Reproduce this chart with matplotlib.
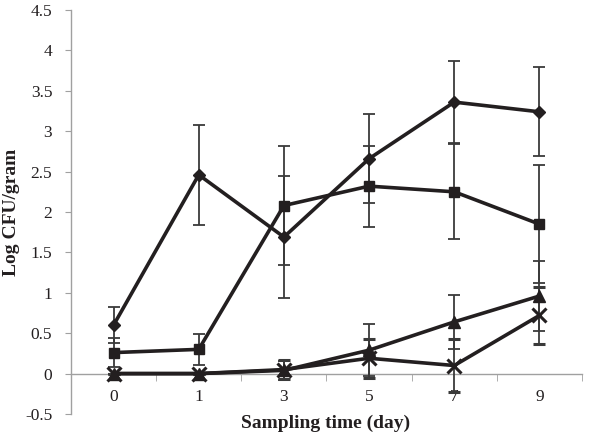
import matplotlib
matplotlib.use("Agg")
import matplotlib.pyplot as plt
import numpy as np

days = ["0", "1", "3", "5", "7", "9"]
diamond = [0.60, 2.46, 1.69, 2.66, 3.36, 3.24]
diamond_err = [0.22, 0.62, 0.76, 0.55, 0.51, 0.55]
square = [0.26, 0.30, 2.08, 2.32, 2.25, 1.85]
square_err = [0.18, 0.19, 0.74, 0.50, 0.59, 0.73]
triangle = [0.0, 0.0, 0.04, 0.29, 0.64, 0.96]
triangle_err = [0.0, 0.0, 0.12, 0.32, 0.33, 0.43]
cross = [0.0, 0.0, 0.05, 0.19, 0.10, 0.72]
cross_err = [0.0, 0.0, 0.12, 0.24, 0.33, 0.35]
yticks = [-0.5, 0, 0.5, 1, 1.5, 2, 2.5, 3, 3.5, 4, 4.5]

plt.rcParams['font.family'] = ['Liberation Serif', 'DejaVu Serif']

fig = plt.figure(figsize=(6.0, 4.37), dpi=100)
ax = fig.add_axes([71/600, 1-414/437, (582-71)/600, (414-10)/437])

x = np.arange(len(days))
line_c = '#231f20'
err_c = '#3a3a3a'

series = [
    (diamond, diamond_err, dict(marker='D', markersize=6.5)),
    (square, square_err, dict(marker='s', markersize=7)),
    (triangle, triangle_err, dict(marker='^', markersize=8)),
    (cross, cross_err, dict(marker='x', markersize=10, markeredgewidth=2.2)),
]
for vals, errs, mk in series:
    ax.errorbar(x, vals, yerr=errs, color=line_c, ecolor=err_c, elinewidth=1.3,
                capsize=4, capthick=1.3, linewidth=2.6, markerfacecolor=line_c,
                markeredgecolor=line_c, zorder=3, **mk)

ax.set_xlim(-0.5, len(days) - 0.5)
ax.set_ylim(-0.5, 4.5)
ax.set_yticks(yticks)
ax.set_yticklabels([f"{v:g}" for v in yticks])

ax.set_xticks(x)
ax.set_xticklabels(days)
ax.set_xticks(np.arange(-0.5, len(days), 1.0), minor=True)
ax.tick_params(axis='x', which='major', length=0, pad=11, labelsize=12.5, colors='#231f20')
ax.tick_params(axis='x', which='minor', length=5, direction='out', color='#a0a0a0')
ax.tick_params(axis='y', which='major', length=4, direction='out', color='#a0a0a0',
               labelsize=12.5, labelcolor='#231f20', pad=9.5)

for s in ['top', 'right']:
    ax.spines[s].set_visible(False)
ax.spines['bottom'].set_position(('data', 0))
ax.spines['bottom'].set_color('#a0a0a0')
ax.spines['left'].set_color('#a0a0a0')
ax.spines['bottom'].set_linewidth(1.0)
ax.spines['left'].set_linewidth(1.0)

fig.text(326/600, 1-423/437, "Sampling time (day)", ha='center', va='center',
         fontsize=14, fontweight='bold', color='#231f20')
fig.text(12/600, 1-212/437, "Log CFU/gram", ha='center', va='center', rotation=90,
         fontsize=14, fontweight='bold', color='#231f20')

fig.savefig("out.png", dpi=100)
